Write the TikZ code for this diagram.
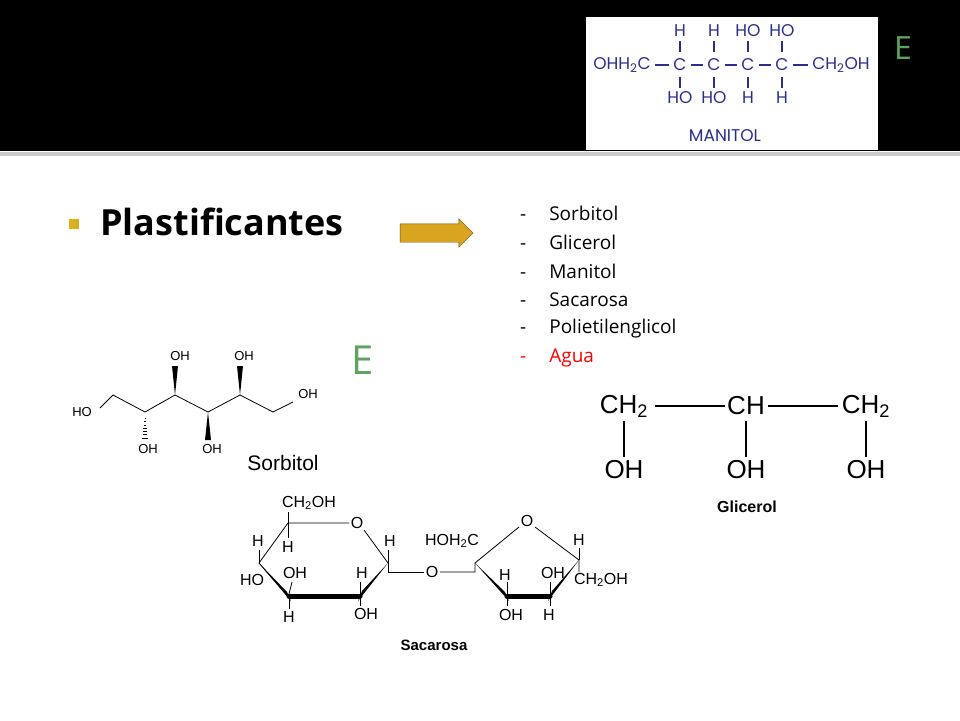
\documentclass[tikz,border=0pt]{standalone}
\usepackage{fontspec}
\setmainfont{Open Sans}
\newfontfamily\chemfont{Liberation Sans}
\newfontfamily\manfont{Poppins}
\usetikzlibrary{shapes.arrows}
\definecolor{manblue}{HTML}{2B2F8C}
\definecolor{slidegreen}{HTML}{5BA55E}
\definecolor{arrowgold}{HTML}{D9A520}
\tikzset{
  chem/.style={font=\chemfont\fontsize{16}{16}\selectfont, inner sep=1pt},
  sorb/.style={font=\chemfont\fontsize{13}{13}\selectfont, inner sep=1pt},
  glic/.style={font=\chemfont\fontsize{26}{26}\selectfont, inner sep=1pt},
  man/.style={font=\manfont\fontsize{17}{17}\selectfont, text=manblue, inner sep=1pt},
  item/.style={font=\fontsize{19}{19}\selectfont, anchor=west, inner sep=0pt},
  bond/.style={line width=0.8pt},
  thick bond/.style={line width=5pt, line cap=round}
}
\begin{document}
\begin{tikzpicture}[x=1pt,y=-1pt]
\useasboundingbox (0,0) rectangle (960,720);
% slide background
\fill [white] (0,0) rectangle (960,720);
\fill [black] (0,0) rectangle (960,151);
\fill [gray!40] (0,152) rectangle (960,156);
% manitol
\fill [white] (586,17) rectangle (878,150);
\node [man] (m0) at (622,65) {OHH\textsubscript{2}C};
\foreach \i/\x/\up/\dn in {1/680/H/HO,2/714/H/HO,3/748/HO/H,4/782/HO/H}{
  \node [man] (c\i) at (\x,65) {C};
  \node [man] (u\i) at (\x,31) {\up};
  \node [man] (d\i) at (\x,98) {\dn};
  \draw [manblue,line width=1.4pt] (\x,41) -- (\x,52);
  \draw [manblue,line width=1.4pt] (\x,77) -- (\x,88);
}
\node [man] (m5) at (841,65) {CH\textsubscript{2}OH};
\foreach \a/\b in {m0/c1,c1/c2,c2/c3,c3/c4,c4/m5}
  \draw [manblue,line width=1.4pt] ([xshift=3pt]\a.east) -- ([xshift=-3pt]\b.west);
\node [man] (mlab) at (725,136) {MANITOL};
\node [text=slidegreen,font=\fontsize{32}{32}\selectfont] (e1) at (903,48) {E};
% bullet and title
\fill [arrowgold!90!yellow] (69,219) rectangle (79,229);
\node [anchor=west,font=\bfseries\fontsize{36}{36}\selectfont,inner sep=0pt] (title) at (100,222) {Plastificantes};
\node [single arrow, draw=arrowgold!50!black, fill=arrowgold, minimum height=73pt,
  minimum width=28pt, single arrow head extend=5pt, inner sep=9pt] (arr) at (432,233) {};
% list
\foreach \t [count=\k] in {Sorbitol,Glicerol,Manitol,Sacarosa,Polietilenglicol}
  \node [item] (l\k) at (520,184+29*\k) {-\hspace{23pt}\t};
\node [item,text=red] (l6) at (520,358) {-\hspace{23pt}Agua};
\node [text=slidegreen,font=\fontsize{40}{40}\selectfont] (e2) at (363,360) {E};
% sorbitol
\draw [bond] (100,408) -- (113,395) -- (145,412) -- (175,395) -- (208,412) -- (240,395) -- (273,412) -- (293,402);
\fill (175,395) -- (172,366) -- (178,366) -- cycle;
\fill (240,395) -- (237,366) -- (243,366) -- cycle;
\fill (208,412) -- (205,440) -- (211,440) -- cycle;
\foreach \k in {0,...,7}
  \draw [line width=0.7pt] (145-0.4*\k,415+3.3*\k) -- (145+0.4*\k,415+3.3*\k);
\node [sorb] (s1) at (82,412) {HO};
\node [sorb] (s2) at (180,356) {OH};
\node [sorb] (s3) at (244,356) {OH};
\node [sorb] (s4) at (308,394) {OH};
\node [sorb] (s5) at (148,449) {OH};
\node [sorb] (s6) at (212,449) {OH};
\node [chem,font=\chemfont\fontsize{21}{21}\selectfont] (slab) at (283,463) {Sorbitol};
% glicerol
\node [glic] (g1) at (624,406) {CH\textsubscript{2}};
\node [glic] (g2) at (746,406) {CH};
\node [glic] (g3) at (866,406) {CH\textsubscript{2}};
\node [glic] (g4) at (624,470) {OH};
\node [glic] (g5) at (746,470) {OH};
\node [glic] (g6) at (866,470) {OH};
\draw [line width=1.5pt] (655,406) -- (725,406);
\draw [line width=1.5pt] (768,406) -- (838,406);
\foreach \x in {624,746,866} \draw [line width=1.5pt] (\x,421) -- (\x,457);
\node [chem,font=\chemfont\bfseries\fontsize{16}{16}\selectfont] (glab) at (747,507) {Glicerol};
% sacarosa
\draw [bond] (289,598) -- (259,563) -- (288,523) -- (349,523);
\draw [bond] (364,530) -- (388,563);
\draw [thick bond] (289,596) -- (360,596);
\fill (259,563) -- (287,592) -- (291,601) -- cycle;
\fill (388,563) -- (362,591) -- (358,601) -- cycle;
\draw [bond] (388,563) -- (388,572) -- (424,572);
\draw [bond] (440,572) -- (475,572) -- (475,563) -- (519,527);
\draw [bond] (535,527) -- (579,560) -- (579,572);
\fill (475,563) -- (505,592) -- (509,601) -- cycle;
\draw [thick bond] (507,596) -- (550,596);
\fill (579,560) -- (552,591) -- (548,601) -- cycle;
\draw [bond] (288,523) -- (288,512);
\draw [bond] (288,523) -- (288,538);
\draw [bond] (259,563) -- (259,550);
\draw [bond] (289,598) -- (289,609);
\draw [bond] (360,598) -- (360,606);
\draw [bond] (360,594) -- (360,582);
\draw [bond] (289,594) -- (292,582);
\draw [bond] (388,563) -- (388,550);
\draw [bond] (507,598) -- (507,606);
\draw [bond] (507,594) -- (507,582);
\draw [bond] (550,598) -- (550,606);
\draw [bond] (550,594) -- (550,582);
\draw [bond] (579,560) -- (579,548);
\node [chem] (p1) at (309,503) {CH\textsubscript{2}OH};
\node [chem] (p2) at (357,523) {O};
\node [chem] (p3) at (258,541) {H};
\node [chem] (p4) at (288,547) {H};
\node [chem] (p5) at (252,580) {HO};
\node [chem] (p6) at (295,573) {OH};
\node [chem] (p7) at (362,573) {H};
\node [chem] (p8) at (390,541) {H};
\node [chem] (p9) at (289,617) {H};
\node [chem] (p10) at (366,614) {OH};
\node [chem] (gly) at (432,572) {O};
\node [chem] (f1) at (452,541) {HOH\textsubscript{2}C};
\node [chem] (f2) at (527,521) {O};
\node [chem] (f3) at (579,540) {H};
\node [chem] (f4) at (601,580) {CH\textsubscript{2}OH};
\node [chem] (f5) at (505,575) {H};
\node [chem] (f6) at (553,573) {OH};
\node [chem] (f7) at (511,615) {OH};
\node [chem] (f8) at (549,615) {H};
\node [chem,font=\chemfont\bfseries\fontsize{15}{15}\selectfont] (sac) at (434,645) {Sacarosa};
\end{tikzpicture}
\end{document}
